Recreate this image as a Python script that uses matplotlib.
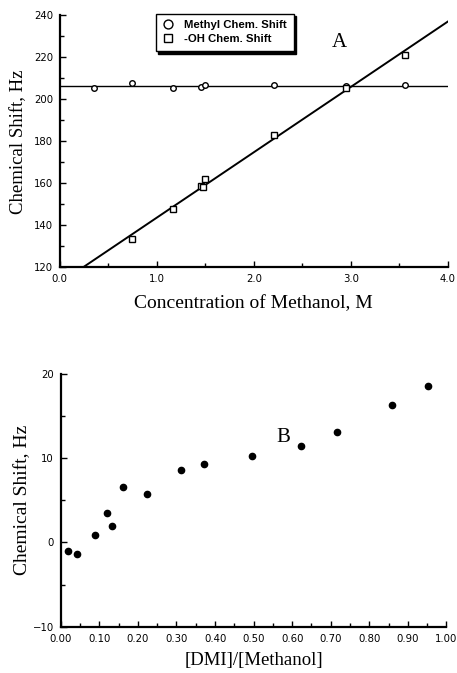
import numpy as np
import matplotlib
matplotlib.use("Agg")
import matplotlib.pyplot as plt
from matplotlib.ticker import MultipleLocator, FormatStrFormatter

# ---- data panel A ----
methyl_conc = [0.35, 0.74, 1.17, 1.46, 1.50, 2.21, 2.95, 3.56]
methyl_shift = [205.5, 208.0, 205.5, 206.0, 207.0, 206.8, 206.5, 206.8]
oh_conc = [0.74, 1.17, 1.46, 1.48, 1.50, 2.21, 2.95, 3.56]
oh_shift = [133.4, 147.7, 158.7, 158.0, 162.0, 183.0, 205.6, 221.0]

# ---- data panel B ----
ratio = [0.020, 0.041, 0.089, 0.120, 0.133, 0.161, 0.223, 0.312, 0.371,
         0.496, 0.622, 0.715, 0.860, 0.951]
shift_b = [-1.05, -1.37, 0.89, 3.54, 2.0, 6.55, 5.79, 8.6, 9.32,
           10.3, 11.45, 13.1, 16.36, 18.6]

serif = "Liberation Serif"
sans = "Liberation Sans"
ticksans = "DejaVu Sans"

fig = plt.figure(figsize=(4.57, 6.73), dpi=100)

def style(ax):
    for s in ("top", "right"):
        ax.spines[s].set_visible(False)
    for s in ("left", "bottom"):
        ax.spines[s].set_linewidth(1.6)
    ax.tick_params(which="both", direction="in", width=1.0, top=False, right=False)
    ax.tick_params(which="major", length=4.5, labelsize=7.3, pad=5)
    ax.tick_params(which="minor", length=3)
    for lab in ax.get_xticklabels() + ax.get_yticklabels():
        lab.set_fontfamily(ticksans)

# ---- Panel A ----
axA = fig.add_axes([0.131, 0.603, 0.849, 0.374])
axA.plot(methyl_conc, methyl_shift, linestyle="none", marker="o", markersize=4,
         markerfacecolor="white", markeredgecolor="black", markeredgewidth=1.0,
         label="Methyl Chem. Shift", zorder=3)
axA.plot(oh_conc, oh_shift, linestyle="none", marker="s", markersize=4,
         markerfacecolor="white", markeredgecolor="black", markeredgewidth=1.0,
         label="-OH Chem. Shift", zorder=3)
mean_methyl = np.mean(methyl_shift)
axA.plot([0, 4.0], [mean_methyl, mean_methyl], color="black", lw=1.0, zorder=2)
slope, icpt = np.polyfit(oh_conc, oh_shift, 1)
xs = np.array([(120 - icpt) / slope, 4.0])
axA.plot(xs, slope * xs + icpt, color="black", lw=1.4, zorder=2)
axA.set_xlim(0, 4.0)
axA.set_ylim(120, 240)
axA.xaxis.set_major_locator(MultipleLocator(1.0))
axA.xaxis.set_minor_locator(MultipleLocator(0.5))
axA.yaxis.set_major_locator(MultipleLocator(20))
axA.yaxis.set_minor_locator(MultipleLocator(10))
axA.xaxis.set_major_formatter(FormatStrFormatter("%.1f"))
style(axA)
axA.set_xlabel("Concentration of Methanol, M", fontfamily=serif, fontsize=14, labelpad=8)
axA.set_ylabel("Chemical Shift, Hz", fontfamily=serif, fontsize=13.5, labelpad=5)
axA.text(0.7, 0.875, "A", transform=axA.transAxes, fontfamily=serif, fontsize=15)
leg = axA.legend(loc="upper left", bbox_to_anchor=(0.232, 1.03), frameon=True,
                 fancybox=False, shadow={"color": "black", "alpha": 1.0},
                 edgecolor="black", framealpha=1.0, markerscale=1.6,
                 prop={"family": sans, "size": 8.2, "weight": "bold"},
                 handletextpad=0.9, borderpad=0.6, labelspacing=0.35, handlelength=1.0)
leg.get_frame().set_linewidth(1.0)

# ---- Panel B ----
axB = fig.add_axes([0.133, 0.0688, 0.844, 0.3755])
axB.plot(ratio, shift_b, linestyle="none", marker="o", markersize=4.5,
         color="black", zorder=3)
axB.set_xlim(0, 1.0)
axB.set_ylim(-10, 20)
axB.xaxis.set_major_locator(MultipleLocator(0.1))
axB.xaxis.set_minor_locator(MultipleLocator(0.05))
axB.yaxis.set_major_locator(MultipleLocator(10))
axB.yaxis.set_minor_locator(MultipleLocator(5))
axB.xaxis.set_major_formatter(FormatStrFormatter("%.2f"))
style(axB)
axB.set_xlabel("[DMI]/[Methanol]", fontfamily=serif, fontsize=13.5, labelpad=6)
axB.set_ylabel("Chemical Shift, Hz", fontfamily=serif, fontsize=14, labelpad=1)
axB.text(0.56, 0.73, "B", transform=axB.transAxes, fontfamily=serif, fontsize=15)

fig.savefig("out.png", dpi=100)
